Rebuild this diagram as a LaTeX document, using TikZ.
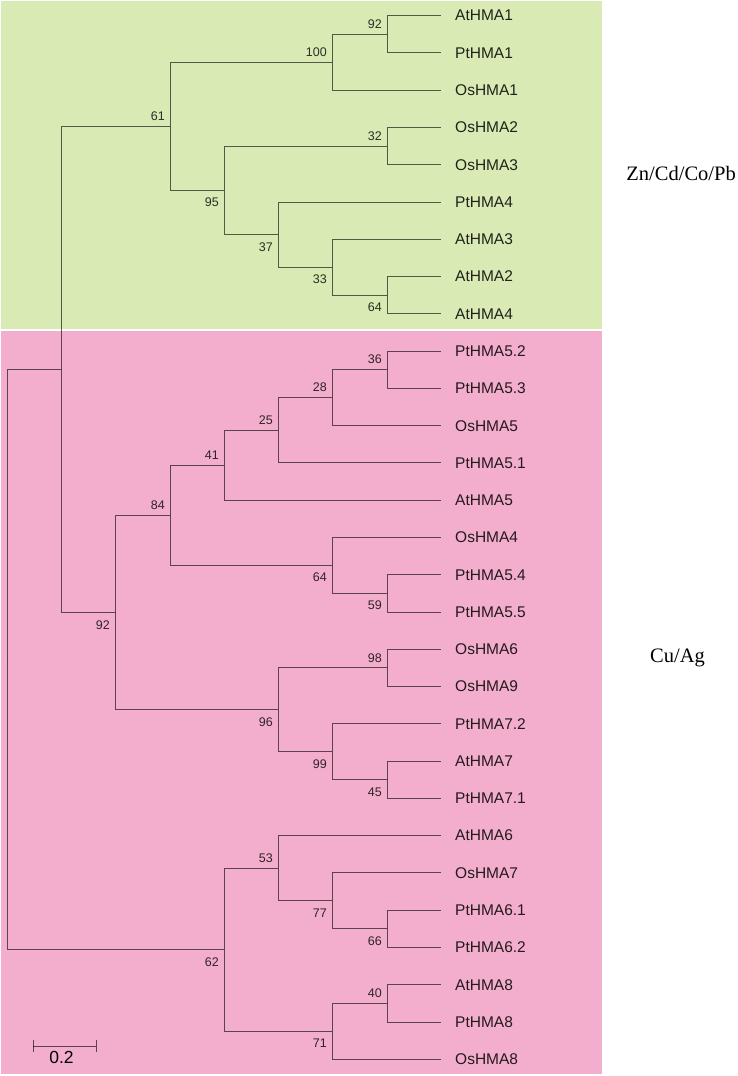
\documentclass[tikz,border=0pt]{standalone}
\usepackage{fontspec}
\setmainfont{Liberation Sans}
\newfontfamily\serifgroup{Liberation Serif}
\usetikzlibrary{positioning}

\definecolor{greenbg}{RGB}{217,234,180}
\definecolor{pinkbg}{RGB}{244,174,205}

\tikzset{
    branch/.style={draw=black, draw opacity=0.62, line width=1pt},
    leaf/.style={anchor=west, inner sep=0pt, xshift=14pt, text opacity=0.85, font=\fontsize{15.5}{18}\selectfont},
    boot/.style={inner sep=0pt, text opacity=0.8, font=\fontsize{12.5}{15}\selectfont},
    bootup/.style={boot, anchor=south east, xshift=-5pt, yshift=5.5pt},
    bootdown/.style={boot, anchor=north east, xshift=-5pt, yshift=-7.5pt},
    groupname/.style={inner sep=0pt, font=\serifgroup\fontsize{20.5}{24}\selectfont}
}

\begin{document}
\begin{tikzpicture}[x=1pt, y=-1pt]
    \useasboundingbox (0,0) rectangle (737,1076);
    % group backgrounds
    \fill [greenbg] (1,1) rectangle (602,329);
    \fill [pinkbg] (1,331) rectangle (602,1074);

    % leaf tips
    \coordinate (l1) at (441,15.7);
    \coordinate (l2) at (441,52.97);
    \coordinate (l3) at (441,90.24);
    \coordinate (l4) at (441,127.51);
    \coordinate (l5) at (441,164.78);
    \coordinate (l6) at (441,202.05);
    \coordinate (l7) at (441,239.32);
    \coordinate (l8) at (441,276.59);
    \coordinate (l9) at (441,313.86);
    \coordinate (l10) at (441,351.13);
    \coordinate (l11) at (441,388.4);
    \coordinate (l12) at (441,425.67);
    \coordinate (l13) at (441,462.94);
    \coordinate (l14) at (441,500.21);
    \coordinate (l15) at (441,537.48);
    \coordinate (l16) at (441,574.75);
    \coordinate (l17) at (441,612.02);
    \coordinate (l18) at (441,649.29);
    \coordinate (l19) at (441,686.56);
    \coordinate (l20) at (441,723.83);
    \coordinate (l21) at (441,761.1);
    \coordinate (l22) at (441,798.37);
    \coordinate (l23) at (441,835.64);
    \coordinate (l24) at (441,872.91);
    \coordinate (l25) at (441,910.18);
    \coordinate (l26) at (441,947.45);
    \coordinate (l27) at (441,984.72);
    \coordinate (l28) at (441,1021.99);
    \coordinate (l29) at (441,1059.26);

    \node [leaf] (t1) at (l1) {AtHMA1};
    \node [leaf] (t2) at (l2) {PtHMA1};
    \node [leaf] (t3) at (l3) {OsHMA1};
    \node [leaf] (t4) at (l4) {OsHMA2};
    \node [leaf] (t5) at (l5) {OsHMA3};
    \node [leaf] (t6) at (l6) {PtHMA4};
    \node [leaf] (t7) at (l7) {AtHMA3};
    \node [leaf] (t8) at (l8) {AtHMA2};
    \node [leaf] (t9) at (l9) {AtHMA4};
    \node [leaf] (t10) at (l10) {PtHMA5.2};
    \node [leaf] (t11) at (l11) {PtHMA5.3};
    \node [leaf] (t12) at (l12) {OsHMA5};
    \node [leaf] (t13) at (l13) {PtHMA5.1};
    \node [leaf] (t14) at (l14) {AtHMA5};
    \node [leaf] (t15) at (l15) {OsHMA4};
    \node [leaf] (t16) at (l16) {PtHMA5.4};
    \node [leaf] (t17) at (l17) {PtHMA5.5};
    \node [leaf] (t18) at (l18) {OsHMA6};
    \node [leaf] (t19) at (l19) {OsHMA9};
    \node [leaf] (t20) at (l20) {PtHMA7.2};
    \node [leaf] (t21) at (l21) {AtHMA7};
    \node [leaf] (t22) at (l22) {PtHMA7.1};
    \node [leaf] (t23) at (l23) {AtHMA6};
    \node [leaf] (t24) at (l24) {OsHMA7};
    \node [leaf] (t25) at (l25) {PtHMA6.1};
    \node [leaf] (t26) at (l26) {PtHMA6.2};
    \node [leaf] (t27) at (l27) {AtHMA8};
    \node [leaf] (t28) at (l28) {PtHMA8};
    \node [leaf] (t29) at (l29) {OsHMA8};

    % internal nodes
    \coordinate (root) at (7,659.7);
    \coordinate (split) at (61,369.5);
    \coordinate (zn61) at (170,126.4);
    \coordinate (zn100) at (332,62.3);
    \coordinate (zn92) at (387,34.3);
    \coordinate (zn95) at (224,190.4);
    \coordinate (zn32) at (387,146.1);
    \coordinate (zn37) at (278,234.7);
    \coordinate (zn33) at (332,267.3);
    \coordinate (zn64) at (387,295.2);
    \coordinate (cu92) at (115,612.6);
    \coordinate (cu84) at (170,515.4);
    \coordinate (cu41) at (224,465.3);
    \coordinate (cu25) at (278,430.3);
    \coordinate (cu28) at (332,397.7);
    \coordinate (cu36) at (387,369.8);
    \coordinate (cu64) at (332,565.4);
    \coordinate (cu59) at (387,593.4);
    \coordinate (cu96) at (278,709.8);
    \coordinate (cu98) at (387,667.9);
    \coordinate (cu99) at (332,751.8);
    \coordinate (cu45) at (387,779.7);
    \coordinate (cu62) at (224,949.8);
    \coordinate (cu53) at (278,868.3);
    \coordinate (cu77) at (332,900.9);
    \coordinate (cu66) at (387,928.8);
    \coordinate (cu71) at (332,1031.3);
    \coordinate (cu40) at (387,1003.4);

    % branches
    \draw [branch] (root) |- (split);
    \draw [branch] (root) |- (cu62);
    \draw [branch] (split) |- (zn61);
    \draw [branch] (split) |- (cu92);
    \draw [branch] (zn61) |- (zn100);
    \draw [branch] (zn61) |- (zn95);
    \draw [branch] (zn100) |- (zn92);
    \draw [branch] (zn100) |- (l3);
    \draw [branch] (zn92) |- (l1);
    \draw [branch] (zn92) |- (l2);
    \draw [branch] (zn95) |- (zn32);
    \draw [branch] (zn95) |- (zn37);
    \draw [branch] (zn32) |- (l4);
    \draw [branch] (zn32) |- (l5);
    \draw [branch] (zn37) |- (l6);
    \draw [branch] (zn37) |- (zn33);
    \draw [branch] (zn33) |- (l7);
    \draw [branch] (zn33) |- (zn64);
    \draw [branch] (zn64) |- (l8);
    \draw [branch] (zn64) |- (l9);
    \draw [branch] (cu92) |- (cu84);
    \draw [branch] (cu92) |- (cu96);
    \draw [branch] (cu84) |- (cu41);
    \draw [branch] (cu84) |- (cu64);
    \draw [branch] (cu41) |- (cu25);
    \draw [branch] (cu41) |- (l14);
    \draw [branch] (cu25) |- (cu28);
    \draw [branch] (cu25) |- (l13);
    \draw [branch] (cu28) |- (cu36);
    \draw [branch] (cu28) |- (l12);
    \draw [branch] (cu36) |- (l10);
    \draw [branch] (cu36) |- (l11);
    \draw [branch] (cu64) |- (l15);
    \draw [branch] (cu64) |- (cu59);
    \draw [branch] (cu59) |- (l16);
    \draw [branch] (cu59) |- (l17);
    \draw [branch] (cu96) |- (cu98);
    \draw [branch] (cu96) |- (cu99);
    \draw [branch] (cu98) |- (l18);
    \draw [branch] (cu98) |- (l19);
    \draw [branch] (cu99) |- (l20);
    \draw [branch] (cu99) |- (cu45);
    \draw [branch] (cu45) |- (l21);
    \draw [branch] (cu45) |- (l22);
    \draw [branch] (cu62) |- (cu53);
    \draw [branch] (cu62) |- (cu71);
    \draw [branch] (cu53) |- (l23);
    \draw [branch] (cu53) |- (cu77);
    \draw [branch] (cu77) |- (l24);
    \draw [branch] (cu77) |- (cu66);
    \draw [branch] (cu66) |- (l25);
    \draw [branch] (cu66) |- (l26);
    \draw [branch] (cu71) |- (cu40);
    \draw [branch] (cu71) |- (l29);
    \draw [branch] (cu40) |- (l27);
    \draw [branch] (cu40) |- (l28);

    % bootstrap values
    \node [bootup] (b1) at (zn92) {92};
    \node [bootup] (b2) at (zn100) {100};
    \node [bootup] (b3) at (zn61) {61};
    \node [bootup] (b4) at (zn32) {32};
    \node [bootdown] (b5) at (zn95) {95};
    \node [bootdown] (b6) at (zn37) {37};
    \node [bootdown] (b7) at (zn33) {33};
    \node [bootdown] (b8) at (zn64) {64};
    \node [bootup] (b9) at (cu36) {36};
    \node [bootup] (b10) at (cu28) {28};
    \node [bootup] (b11) at (cu25) {25};
    \node [bootup] (b12) at (cu41) {41};
    \node [bootup] (b13) at (cu84) {84};
    \node [bootdown] (b14) at (cu64) {64};
    \node [bootdown] (b15) at (cu59) {59};
    \node [bootdown] (b16) at (cu92) {92};
    \node [bootup] (b17) at (cu98) {98};
    \node [bootdown] (b18) at (cu96) {96};
    \node [bootdown] (b19) at (cu99) {99};
    \node [bootdown] (b20) at (cu45) {45};
    \node [bootup] (b21) at (cu53) {53};
    \node [bootdown] (b22) at (cu77) {77};
    \node [bootdown] (b23) at (cu66) {66};
    \node [bootdown] (b24) at (cu62) {62};
    \node [bootup] (b25) at (cu40) {40};
    \node [bootdown] (b26) at (cu71) {71};

    % scale bar
    \coordinate (sbl) at (33,1046);
    \coordinate (sbr) at (96,1046);
    \draw [branch] (sbl) -- (sbr);
    \draw [branch] ([yshift=6pt]sbl) -- ([yshift=-6pt]sbl);
    \draw [branch] ([yshift=6pt]sbr) -- ([yshift=-6pt]sbr);
    \node [anchor=base, inner sep=0pt, font=\fontsize{17.5}{20}\selectfont] (sbtxt) at (61.5,1063.3) {0.2};

    % metal groups
    \node [groupname, anchor=base east] (zn) at (736,180) {Zn/Cd/Co/Pb};
    \node [groupname, anchor=base west] (cu) at (650,662.5) {Cu/Ag};
\end{tikzpicture}
\end{document}
